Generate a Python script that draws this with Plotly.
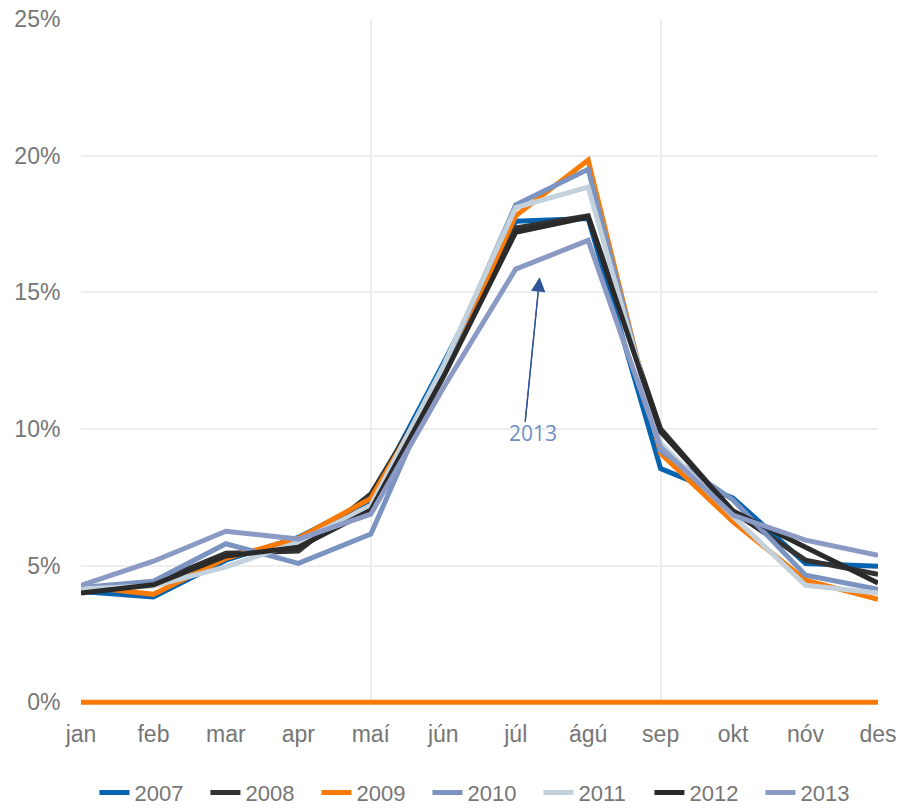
import plotly.graph_objects as go

months = ["jan", "feb", "mar", "apr", "maí", "jún", "júl", "ágú", "sep", "okt", "nóv", "des"]
years = ["2007", "2008", "2009", "2010", "2011", "2012", "2013"]

s2007 = [4.05, 3.85, 5.20, 6.03, 7.40, 12.40, 17.60, 17.70, 8.55, 7.47, 5.08, 4.98]
s2008 = [4.05, 4.36, 5.45, 5.53, 7.62, 12.00, 17.35, 17.80, 10.00, 6.97, 5.20, 4.68]
s2009 = [4.25, 3.95, 5.27, 6.00, 7.46, 12.00, 17.80, 19.84, 9.10, 6.60, 4.47, 3.77]
s2010 = [4.20, 4.43, 5.80, 5.08, 6.15, 12.20, 18.20, 19.50, 9.20, 7.40, 4.65, 4.13]
s2011 = [4.15, 4.25, 4.95, 5.86, 7.20, 12.30, 18.10, 18.85, 9.48, 6.80, 4.28, 4.00]
s2012 = [4.00, 4.30, 5.35, 5.67, 7.03, 11.90, 17.20, 17.75, 9.90, 7.00, 5.67, 4.36]
s2013 = [4.28, 5.16, 6.26, 5.97, 6.88, 11.50, 15.85, 16.90, 9.33, 6.85, 5.93, 5.38]
zero_line = [0, 0, 0, 0, 0, 0, 0, 0, 0, 0, 0, 0]

series = [s2007, s2008, s2009, s2010, s2011, s2012, s2013]
colors = ["#0563B0", "#333333", "#F97B05", "#7A93C0", "#C3D1DC", "#2A2A2A", "#8A9AC4"]

xs = list(range(len(months)))
fig = go.Figure()

fig.add_trace(go.Scatter(x=xs, y=[v / 100 for v in zero_line], mode="lines",
                         line=dict(color="#F97B05", width=5), showlegend=False,
                         hoverinfo="skip"))

for name, vals, col in zip(years, series, colors):
    fig.add_trace(go.Scatter(x=xs, y=[v / 100 for v in vals], mode="lines", name=name,
                             line=dict(color=col, width=5)))

font_gray = "#767676"
fig.update_layout(
    width=901, height=808,
    margin=dict(l=81, r=23, t=19, b=103, autoexpand=False),
    plot_bgcolor="white", paper_bgcolor="white",
    font=dict(family="Liberation Sans, Arial, sans-serif", size=23, color=font_gray),
    showlegend=True,
    legend=dict(orientation="h", x=0.536, xanchor="center", xref="container",
                y=0.019, yref="container", yanchor="middle",
                entrywidth=66, entrywidthmode="pixels",
                font=dict(size=22, color=font_gray), tracegroupgap=0),
    xaxis=dict(range=[0, 11], tickvals=xs, ticktext=months, showgrid=False,
               zeroline=False, showline=False, ticks="outside", ticklen=8,
               tickcolor="rgba(0,0,0,0)",
               minor=dict(tickvals=[0, 4, 8], showgrid=True, gridcolor="#EEEEEE",
                          gridwidth=1.5, ticks="")),
    yaxis=dict(range=[-0.001, 0.25], tickvals=[0, 0.05, 0.10, 0.15, 0.20, 0.25],
               tickformat=".0%", showgrid=True, gridcolor="#EEEEEE", gridwidth=1.5,
               zeroline=False, showline=False, ticks="outside", ticklen=15,
               tickcolor="rgba(0,0,0,0)"),
)

fig.add_annotation(x=6.13, y=0.1025, ax=6.33, ay=0.1555, xref="x", yref="y",
                   axref="x", ayref="y", text="", showarrow=True,
                   arrowhead=0, arrowwidth=1.3, arrowcolor="#2F5597")
fig.add_annotation(x=6.33, y=0.1555, ax=6.13, ay=0.1025, xref="x", yref="y",
                   axref="x", ayref="y", text="", showarrow=True,
                   arrowhead=2, arrowsize=2.2, arrowwidth=1.3, arrowcolor="#2F5597",
                   standoff=0)
fig.add_annotation(x=6.24, y=0.0985, xref="x", yref="y", text="2013", showarrow=False,
                   font=dict(family="Open Sans, sans-serif", size=21, color="#6F8FC6"))

fig.write_html("out.html", config={"displayModeBar": False},
               post_script="document.body.style.margin='0';document.body.style.padding='0';")
